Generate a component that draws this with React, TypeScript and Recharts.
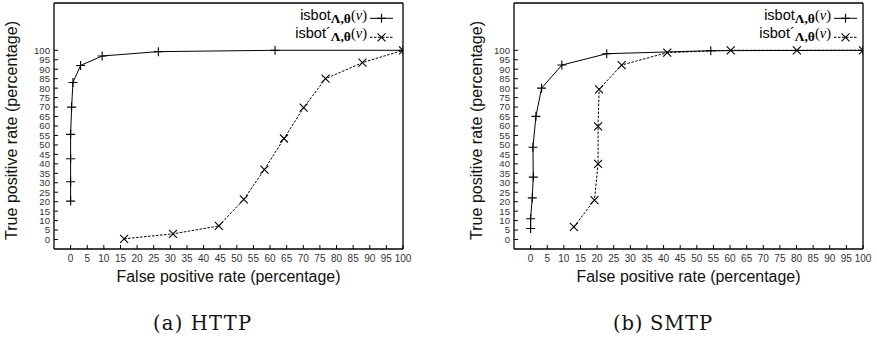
import React from 'react';
import { LineChart, Line, XAxis, YAxis, Legend } from 'recharts';

const X_TICKS = [0, 5, 10, 15, 20, 25, 30, 35, 40, 45, 50, 55, 60, 65, 70, 75, 80, 85, 90, 95, 100];
const Y_TICKS = [0, 5, 10, 15, 20, 25, 30, 35, 40, 45, 50, 55, 60, 65, 70, 75, 80, 85, 90, 95, 100];

const HTTP_ISBOT = [
  { x: 0, y: 20.3 }, { x: 0, y: 30.5 }, { x: 0, y: 42.7 }, { x: 0, y: 55.6 },
  { x: 0.3, y: 70 }, { x: 0.7, y: 83 }, { x: 3, y: 92 }, { x: 9.5, y: 97 },
  { x: 26.4, y: 99.3 }, { x: 61.5, y: 100 }, { x: 100, y: 100 },
];
const HTTP_ISBOT_PRIME = [
  { x: 16.1, y: 0.4 }, { x: 30.8, y: 3 }, { x: 44.6, y: 7.2 }, { x: 52.1, y: 21.2 },
  { x: 58.3, y: 37 }, { x: 64.2, y: 53.4 }, { x: 70.1, y: 69.7 }, { x: 76.7, y: 85 },
  { x: 87.8, y: 93.5 }, { x: 100, y: 100 },
];
const SMTP_ISBOT = [
  { x: 0, y: 5.8 }, { x: 0, y: 11 }, { x: 0.5, y: 22 }, { x: 0.8, y: 33 },
  { x: 0.7, y: 48.8 }, { x: 1.6, y: 65.1 }, { x: 3.3, y: 80 }, { x: 9.4, y: 92.2 },
  { x: 22.9, y: 98.2 }, { x: 54.2, y: 99.8 }, { x: 100, y: 100 },
];
const SMTP_ISBOT_PRIME = [
  { x: 13, y: 6.7 }, { x: 19.2, y: 20.8 }, { x: 20.3, y: 40 }, { x: 20.3, y: 59.8 },
  { x: 20.6, y: 79.4 }, { x: 27.4, y: 92.2 }, { x: 41.1, y: 98.8 }, { x: 60.2, y: 100 },
  { x: 80.1, y: 100 }, { x: 100, y: 100 },
];

const X_TITLE = 'False positive rate (percentage)';
const Y_TITLE = 'True positive rate (percentage)';
const CAPTIONS = ['(a) HTTP', '(b) SMTP'];

const SANS = '"Liberation Sans", Arial, Helvetica, sans-serif';
const SERIF = '"Liberation Serif", "Times New Roman", serif';
const CAPTION_SERIF = '"DejaVu Serif", "Liberation Serif", serif';

const plusPath = (cx: number, cy: number) =>
  `M${cx - 4.5},${cy}H${cx + 4.5}M${cx},${cy - 4.5}V${cy + 4.5}`;
const crossPath = (cx: number, cy: number) =>
  `M${cx - 4},${cy - 4}L${cx + 4},${cy + 4}M${cx - 4},${cy + 4}L${cx + 4},${cy - 4}`;

const PlusDot = (props: any) => {
  const { cx, cy, index } = props;
  if (cx == null || cy == null) return <g key={`p-${index}`} />;
  return <path key={`p-${index}`} d={plusPath(cx, cy)} stroke="#000" strokeWidth={1.1} fill="none" />;
};
const CrossDot = (props: any) => {
  const { cx, cy, index } = props;
  if (cx == null || cy == null) return <g key={`c-${index}`} />;
  return <path key={`c-${index}`} d={crossPath(cx, cy)} stroke="#000" strokeWidth={1.1} fill="none" />;
};

const LegendName = ({ x, y, prime }: { x: number; y: number; prime: boolean }) => (
  <text x={x} y={y} textAnchor="end" fill="#000">
    <tspan fontFamily={SANS} fontSize={14.5}>isbot</tspan>
    {prime ? <tspan fontFamily={SANS} fontSize={14.5}>´</tspan> : null}
    <tspan fontFamily={SERIF} fontSize={13.5} fontWeight="bold" dy={2.5}>Λ,θ</tspan>
    <tspan fontFamily={SERIF} fontSize={14.5} dy={-2.5}>(</tspan>
    <tspan fontFamily={SERIF} fontSize={14.5} fontStyle="italic">ν</tspan>
    <tspan fontFamily={SERIF} fontSize={14.5}>)</tspan>
  </text>
);

const LegendBox = () => (
  <svg width={106} height={44} style={{ display: 'block', overflow: 'visible' }}>
    <LegendName x={77} y={20} prime={false} />
    <line x1={80} x2={103} y1={18.3} y2={18.3} stroke="#000" strokeWidth={1} />
    <path d={plusPath(91.5, 18.3)} stroke="#000" strokeWidth={1.1} fill="none" />
    <LegendName x={77} y={38.3} prime={true} />
    <line x1={80} x2={103} y1={37.3} y2={37.3} stroke="#000" strokeWidth={1} strokeDasharray="2.5 1.5" />
    <path d={crossPath(91.5, 37.3)} stroke="#000" strokeWidth={1.1} fill="none" />
  </svg>
);

type PanelProps = {
  width: number;
  yAxisWidth: number;
  rightMargin: number;
  titleX: number;
  legendLeft: number;
  s1: { x: number; y: number }[];
  s2: { x: number; y: number }[];
};

const Panel = ({ width, yAxisWidth, rightMargin, titleX, legendLeft, s1, s2 }: PanelProps) => (
  <LineChart width={width} height={300} margin={{ top: 2, right: rightMargin, bottom: 0, left: 0 }}>
    <XAxis
      xAxisId="b"
      type="number"
      dataKey="x"
      orientation="bottom"
      domain={[-5, 100]}
      allowDataOverflow
      ticks={X_TICKS}
      interval={0}
      height={51}
      tickSize={-4}
      tickMargin={10}
      axisLine={{ stroke: '#000', strokeWidth: 1.3 }}
      tickLine={{ stroke: '#000', strokeWidth: 1 }}
      tick={{ fontSize: 10, fill: '#333', fontFamily: SANS }}
      label={{
        content: (p: any) => {
          const vb = p.viewBox || {};
          return (
            <text x={vb.x + vb.width / 2} y={vb.y + 33} textAnchor="middle" fontFamily={SANS} fontSize={16} textLength={224} lengthAdjust="spacingAndGlyphs" fill="#111">
              {X_TITLE}
            </text>
          );
        },
      }}
    />
    <XAxis
      xAxisId="t"
      type="number"
      dataKey="x"
      orientation="top"
      domain={[-5, 100]}
      allowDataOverflow
      ticks={X_TICKS}
      interval={0}
      height={1}
      tickSize={-4}
      tick={false}
      axisLine={{ stroke: '#000', strokeWidth: 1.3 }}
      tickLine={{ stroke: '#000', strokeWidth: 1 }}
    />
    <YAxis
      yAxisId="l"
      type="number"
      dataKey="y"
      orientation="left"
      domain={[-5, 125]}
      allowDataOverflow
      ticks={Y_TICKS}
      interval={0}
      width={yAxisWidth}
      tickSize={-4}
      tickMargin={8}
      axisLine={{ stroke: '#000', strokeWidth: 1.3 }}
      tickLine={{ stroke: '#000', strokeWidth: 1 }}
      tick={{ fontSize: 9.6, fill: '#333', fontFamily: SANS }}
      label={{
        content: (p: any) => {
          const vb = p.viewBox || {};
          const tx = vb.x + titleX;
          const ty = vb.y + vb.height / 2 + 4.5;
          return (
            <text x={tx} y={ty} transform={`rotate(-90 ${tx} ${ty})`} textAnchor="middle" fontFamily={SANS} fontSize={16} textLength={219} lengthAdjust="spacingAndGlyphs" fill="#111">
              {Y_TITLE}
            </text>
          );
        },
      }}
    />
    <YAxis
      yAxisId="r"
      type="number"
      dataKey="y"
      orientation="right"
      domain={[-5, 125]}
      allowDataOverflow
      ticks={Y_TICKS}
      interval={0}
      width={1}
      tickSize={-4}
      tick={false}
      axisLine={{ stroke: '#000', strokeWidth: 1.3 }}
      tickLine={{ stroke: '#000', strokeWidth: 1 }}
    />
    <Legend
      layout="horizontal"
      align="center"
      verticalAlign="middle"
      wrapperStyle={{ left: legendLeft, top: 0, width: 106, height: 44 }}
      content={() => <LegendBox />}
    />
    <Line
      xAxisId="b"
      yAxisId="l"
      data={s1}
      dataKey="y"
      type="linear"
      stroke="#000"
      strokeWidth={1}
      dot={PlusDot}
      activeDot={false}
      isAnimationActive={false}
      name="isbot"
    />
    <Line
      xAxisId="b"
      yAxisId="l"
      data={s2}
      dataKey="y"
      type="linear"
      stroke="#000"
      strokeWidth={1}
      strokeDasharray="2.5 1.5"
      dot={CrossDot}
      activeDot={false}
      isAnimationActive={false}
      name="isbot'"
    />
  </LineChart>
);

export default function App() {
  return (
    <div style={{ position: 'absolute', left: 0, top: 0, width: 877, height: 342, background: '#fff' }}>
      <div style={{ position: 'absolute', left: 0, top: 0 }}>
        <Panel width={440} yAxisWidth={54} rightMargin={36} titleX={16.5} legendLeft={290} s1={HTTP_ISBOT} s2={HTTP_ISBOT_PRIME} />
      </div>
      <div style={{ position: 'absolute', left: 440, top: 0 }}>
        <Panel width={437} yAxisWidth={74} rightMargin={13} titleX={41.5} legendLeft={314} s1={SMTP_ISBOT} s2={SMTP_ISBOT_PRIME} />
      </div>
      <svg width={877} height={342} style={{ position: 'absolute', left: 0, top: 0, pointerEvents: 'none' }}>
        <text x={153} y={329.5} fontFamily={CAPTION_SERIF} fontSize={19.5} textLength={98} lengthAdjust="spacing" fill="#111">{CAPTIONS[0]}</text>
        <text x={613} y={329.5} fontFamily={CAPTION_SERIF} fontSize={19.5} textLength={99} lengthAdjust="spacing" fill="#111">{CAPTIONS[1]}</text>
      </svg>
    </div>
  );
}
